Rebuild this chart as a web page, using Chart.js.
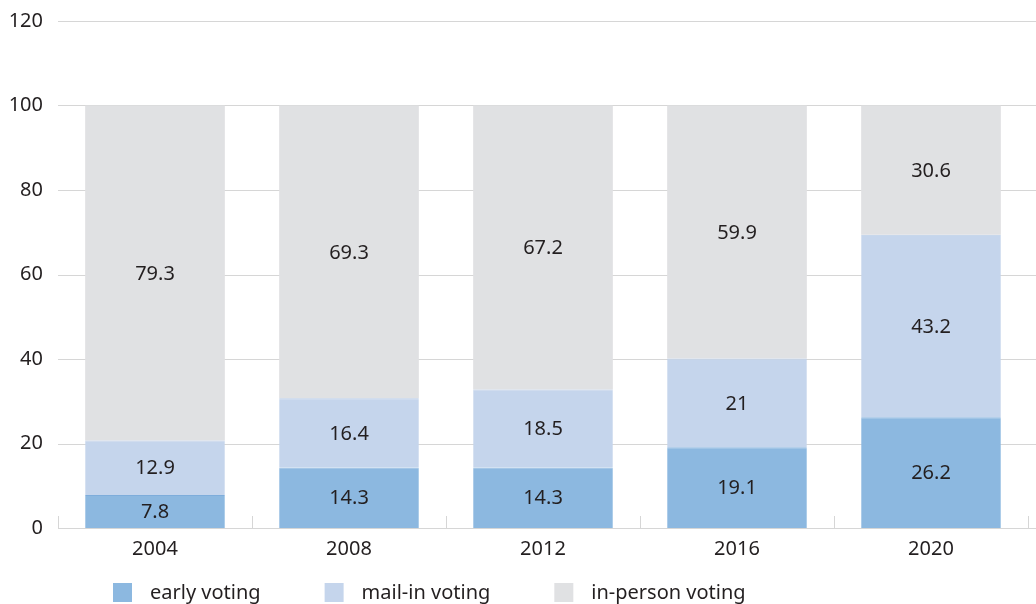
<!DOCTYPE html>
<html>
<head>
<meta charset="utf-8">
<script src="https://cdn.jsdelivr.net/npm/chart.js@4"></script>
<style>
  html, body { margin: 0; padding: 0; background: #fff; }
  #wrap { width: 1036px; height: 604px; position: relative; }
</style>
</head>
<body>
<div id="wrap"><canvas id="canvas"></canvas></div>
<script>
// anos e percentuais por tipo de voto
var anos = ['2004', '2008', '2012', '2016', '2020'];
var early = [7.8, 14.3, 14.3, 19.1, 26.2];
var mailIn = [12.9, 16.4, 18.5, 21, 43.2];
var inPerson = [79.3, 69.3, 67.2, 59.9, 30.6];
var yTicks = [0, 20, 40, 60, 80, 100, 120];

var fonte = '"Noto Sans", sans-serif';
var corTexto = '#231f20';
var corGrade = '#d6d6d6';

// valores escritos no meio de cada bloco
var rotulos = {
  id: 'rotulos',
  afterDatasetsDraw: function(chart) {
    var ctx = chart.ctx;
    ctx.save();
    ctx.font = '20px ' + fonte;
    ctx.fillStyle = corTexto;
    ctx.textAlign = 'center';
    ctx.textBaseline = 'middle';
    chart.data.datasets.forEach(function(ds, i) {
      chart.getDatasetMeta(i).data.forEach(function(bar, j) {
        ctx.fillText(String(ds.data[j]), bar.x, (bar.y + bar.base) / 2 + 1);
      });
    });
    ctx.restore();
  }
};

// tracinhos entre as categorias e linhas da grade ate a borda
var tracos = {
  id: 'tracos',
  beforeDatasetsDraw: function(chart) {
    var ctx = chart.ctx, x = chart.scales.x, y = chart.scales.y, area = chart.chartArea;
    ctx.save();
    ctx.strokeStyle = corGrade;
    ctx.lineWidth = 1;
    yTicks.forEach(function(v) {
      var py = Math.round(y.getPixelForValue(v)) + 0.5;
      ctx.beginPath();
      ctx.moveTo(area.left, py);
      ctx.lineTo(chart.width, py);
      ctx.stroke();
    });
    var passo = (x.getPixelForValue(1) - x.getPixelForValue(0));
    for (var i = 0; i <= anos.length; i++) {
      var px = Math.round(x.getPixelForValue(i) - passo / 2) + 0.5;
      ctx.beginPath();
      ctx.moveTo(px, area.bottom - 12);
      ctx.lineTo(px, area.bottom);
      ctx.stroke();
    }
    ctx.restore();
  }
};

// legenda embaixo, alinhada a esquerda
var legenda = {
  id: 'legenda',
  afterDraw: function(chart) {
    var ctx = chart.ctx;
    ctx.save();
    ctx.font = '20px ' + fonte;
    ctx.textBaseline = 'middle';
    var x = 113, yBox = 583;
    chart.data.datasets.forEach(function(ds) {
      ctx.fillStyle = ds.backgroundColor;
      ctx.fillRect(x, yBox, 19, 19);
      ctx.fillStyle = corTexto;
      ctx.textAlign = 'left';
      ctx.fillText(ds.label, x + 37, yBox + 10);
      x = x + 37 + ctx.measureText(ds.label).width + 64;
    });
    ctx.restore();
  }
};

var barChartData = {
  labels: anos,
  datasets: [{
    label: 'early voting',
    backgroundColor: '#8cb8e0',
    borderColor: '#7eaddb',
    borderWidth: { top: 1, left: 0, right: 0, bottom: 0 },
    borderSkipped: false,
    data: early
  }, {
    label: 'mail-in voting',
    backgroundColor: '#c5d5ec',
    borderColor: '#b7cae6',
    borderWidth: { top: 1, left: 0, right: 0, bottom: 0 },
    borderSkipped: false,
    data: mailIn
  }, {
    label: 'in-person voting',
    backgroundColor: '#e0e1e3',
    borderColor: '#e0e1e3',
    borderWidth: 0,
    data: inPerson
  }]
};

var ctx = document.getElementById('canvas').getContext('2d');
window.myBar = new Chart(ctx, {
  type: 'bar',
  data: barChartData,
  plugins: [tracos, rotulos, legenda],
  options: {
    responsive: true,
    maintainAspectRatio: false,
    animation: false,
    layout: { padding: { left: 0, right: 8, top: 21, bottom: 34 } },
    datasets: { bar: { categoryPercentage: 1, barPercentage: 0.72 } },
    plugins: {
      legend: { display: false },
      tooltip: { enabled: false },
      title: { display: false }
    },
    scales: {
      x: {
        stacked: true,
        grid: { display: false, drawTicks: false },
        border: { display: false },
        ticks: { color: corTexto, font: { family: fonte, size: 20 }, padding: 9 }
      },
      y: {
        stacked: true,
        min: 0,
        max: 120,
        afterFit: function(scale) {
          scale.width = 58;
          scale.paddingTop = 0;
          scale.paddingBottom = 0;
        },
        afterBuildTicks: function(scale) {
          scale.ticks = yTicks.map(function(v) { return { value: v }; });
        },
        grid: { display: false, drawTicks: false },
        border: { display: false },
        ticks: { color: corTexto, font: { family: fonte, size: 20 }, padding: 15 }
      }
    }
  }
});
</script>
</body>
</html>
